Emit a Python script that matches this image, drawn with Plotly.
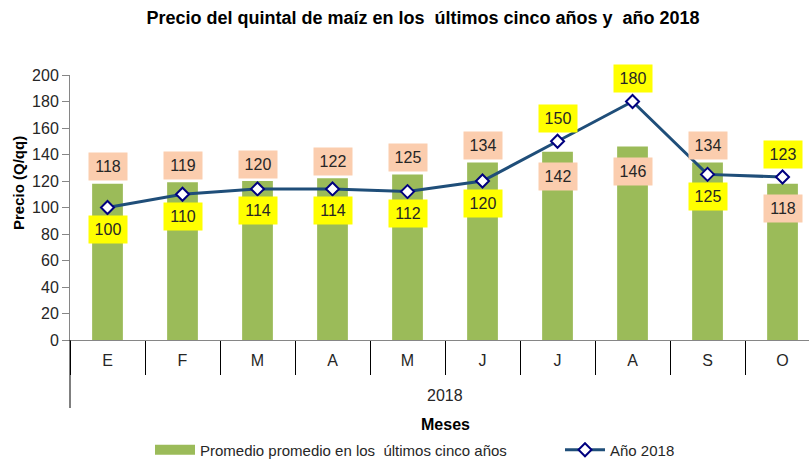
import plotly.graph_objects as go

# ---- data ----
months = ["E", "F", "M", "A", "M", "J", "J", "A", "S", "O"]
promedio = [118, 119, 120, 122, 125, 134, 142, 146, 134, 118]
anio_2018 = [100, 110, 114, 114, 112, 120, 150, 180, 125, 123]
y_ticks = [0, 20, 40, 60, 80, 100, 120, 140, 160, 180, 200]
year_label = "2018"
name_bar = "Promedio promedio en los \u00a0últimos cinco años"
name_line = "Año 2018"
title_text = "Precio del quintal de maíz en los \u00a0últimos cinco años y \u00a0año 2018"

FONT = "Liberation Sans, Arial, sans-serif"
GREEN = "#9BBB59"
LINE = "#1F4E79"
PEACH = "#FBCDAE"
YELLOW = "#FFFF00"
TXT = "#262626"

L, T, B = 70, 75, 120
PW, PH = 739, 265


def px_x(p):
    return (p - L) / PW


def px_y(p):
    return (340 - p) / PH


x = list(range(len(months)))

fig = go.Figure()
fig.add_trace(go.Bar(x=x, y=promedio, width=0.41, marker=dict(color=GREEN, line=dict(width=0)),
                     name=name_bar, showlegend=False))
fig.add_trace(go.Scatter(x=[None], y=[None], mode="lines", line=dict(color=GREEN, width=12),
                         name=name_bar, legend="legend"))
fig.add_trace(go.Scatter(x=x, y=anio_2018, mode="lines+markers", name=name_line, legend="legend2",
                         line=dict(color=LINE, width=3),
                         marker=dict(symbol="diamond", size=10, color="white",
                                     line=dict(color="#00007F", width=2))))

ann = []
for i, (b, l) in enumerate(zip(promedio, anio_2018)):
    bar_above = b >= l
    ann.append(dict(x=x[i], y=b, xref="x", yref="y", text=str(b), showarrow=False,
                    yshift=17 if bar_above else -25, bgcolor=PEACH, width=36, height=25,
                    font=dict(family=FONT, size=16, color=TXT)))
    ann.append(dict(x=x[i], y=l, xref="x", yref="y", text=str(l), showarrow=False,
                    yshift=-22 if bar_above else 23, bgcolor=YELLOW, width=36, height=25,
                    font=dict(family=FONT, size=16, color=TXT)))

ann.append(dict(x=px_x(445), y=px_y(395), xref="paper", yref="paper", xanchor="center",
                yanchor="middle", text=year_label, showarrow=False,
                font=dict(family=FONT, size=16, color=TXT)))
ann.append(dict(x=px_x(445), y=px_y(424), xref="paper", yref="paper", xanchor="center",
                yanchor="middle", text="<b>Meses</b>", showarrow=False,
                font=dict(family=FONT, size=16, color="black")))
ann.append(dict(x=px_x(18), y=px_y(183), xref="paper", yref="paper", xanchor="center",
                yanchor="middle", text="<b>Precio (Q/qq)</b>", textangle=-90, showarrow=False,
                font=dict(family=FONT, size=15, color="black")))

leg_common = dict(orientation="h", xanchor="left", yanchor="middle", y=px_y(450),
                  font=dict(family=FONT, size=15, color=TXT), itemwidth=40,
                  bgcolor="rgba(0,0,0,0)")

fig.update_layout(
    width=809, height=460,
    margin=dict(l=L, r=0, t=T, b=B, autoexpand=False),
    paper_bgcolor="white", plot_bgcolor="white",
    title=dict(text="<b>" + title_text + "</b>", x=423 / 809, xanchor="center", xref="container",
               y=1 - 18 / 460, yanchor="middle", yref="container",
               font=dict(family=FONT, size=18, color="black")),
    annotations=ann,
    legend=dict(x=px_x(150), **leg_common),
    legend2=dict(x=px_x(560), **leg_common),
)

fig.update_xaxes(range=[-0.5, 9.353], tickmode="array", tickvals=x, ticktext=months,
                 ticks="", showline=True, linecolor="#868686", linewidth=1, showgrid=False,
                 zeroline=False, tickfont=dict(family=FONT, size=16, color=TXT),
                 ticklabelstandoff=6, automargin=False,
                 minor=dict(tickmode="array", tickvals=[i - 0.5 for i in range(len(months) + 1)],
                            ticks="outside", ticklen=34, tickcolor="black", tickwidth=1,
                            showgrid=False))
fig.update_yaxes(range=[0, 200], tickmode="array", tickvals=y_ticks, ticks="outside", ticklen=7,
                 tickcolor="#868686", showline=True, linecolor="#868686", linewidth=1,
                 showgrid=False, zeroline=False, automargin=False,
                 tickfont=dict(family=FONT, size=16, color=TXT))

fig.add_shape(type="line", xref="paper", yref="paper", x0=0, x1=0, y0=0, y1=px_y(408),
              line=dict(color="black", width=1))

fig.write_html("out.html", config={"displayModeBar": False},
               post_script="document.body.style.margin='0';document.body.style.padding='0';")
